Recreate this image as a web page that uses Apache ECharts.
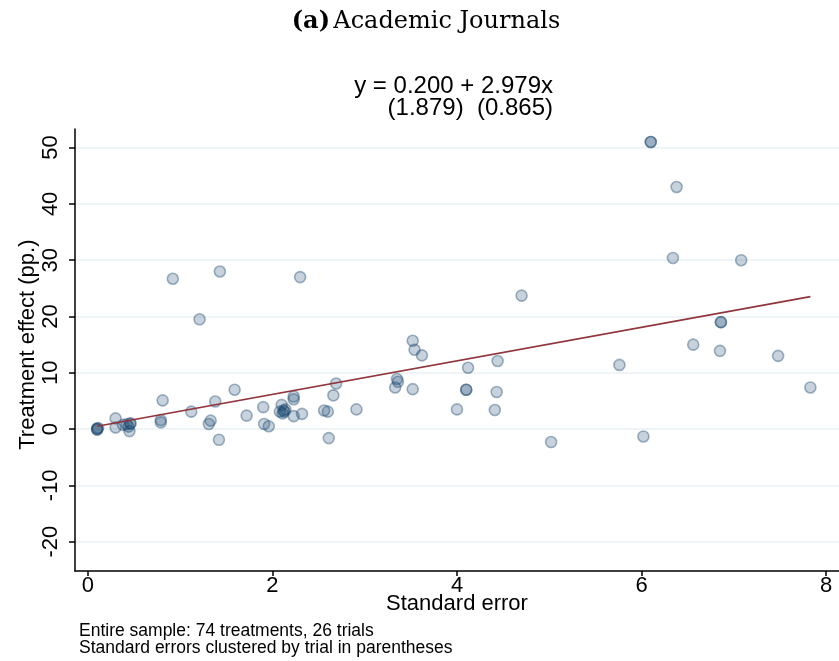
<!DOCTYPE html>
<html>
<head>
<meta charset="utf-8">
<script src="https://cdn.jsdelivr.net/npm/echarts@6/dist/echarts.min.js"></script>
<style>
  html, body { margin: 0; padding: 0; background: #ffffff; }
  #chart { width: 839px; height: 661px; }
</style>
</head>
<body>
<div id="chart"></div>
<script>
// Standard error (x) and treatment effect in percentage points (y), one entry per treatment
const standardErrors = [
  0.10, 0.10, 0.11, 0.10, 0.30, 0.30, 0.38, 0.42, 0.46, 0.45, 0.44, 0.46,
  0.81, 0.79, 0.79, 1.12, 1.38, 1.59, 1.33, 1.31, 1.42, 1.72, 1.90, 1.91,
  1.96, 2.10, 2.14, 2.08, 2.11, 2.13, 2.12, 2.23, 2.23, 2.23, 2.32, 2.56,
  2.60, 2.66, 2.69, 2.61, 2.91, 3.35, 3.36, 3.33, 3.52, 3.52, 3.54, 3.62,
  4.00, 4.12, 4.10, 4.10, 4.44, 4.43, 4.41, 4.70, 5.02, 5.76, 6.02, 6.10,
  6.10, 6.38, 6.34, 7.08, 6.86, 6.86, 6.56, 6.85, 7.48, 7.83, 0.92, 1.43,
  2.30, 1.21
];
const treatmentEffects = [
  0.0, 0.1, 0.2, -0.1, 1.9, 0.3, 0.75, 0.87, 1.05, -0.35, 0.44, 0.95,
  5.1, 1.6, 1.2, 3.1, 4.9, 7.0, 1.5, 0.9, -1.9, 2.4, 3.9, 0.9,
  0.5, 4.3, 3.5, 3.1, 2.8, 3.1, 3.3, 5.8, 5.3, 2.3, 2.7, 3.3,
  3.1, 6.0, 8.1, -1.6, 3.5, 8.9, 8.4, 7.4, 7.1, 15.7, 14.1, 13.1,
  3.5, 10.9, 7.0, 7.0, 12.1, 6.6, 3.4, 23.7, -2.3, 11.4, -1.3, 51.0,
  51.0, 43.0, 30.4, 30.0, 19.0, 19.0, 15.0, 13.9, 13.0, 7.4, 26.7, 28.0,
  27.0, 19.5
];

// Fitted line y = a + b*x with clustered standard errors
const intercept = 0.200;
const slope = 2.979;
const interceptSE = 1.879;
const slopeSE = 0.865;

// Axis ticks
const xTickValues = [0, 2, 4, 6, 8];
const yTickValues = [-20, -10, 0, 10, 20, 30, 40, 50];

// Text
const titleTag = '(a)';
const titleText = 'Academic Journals';
const xAxisTitle = 'Standard error';
const yAxisTitle = 'Treatment effect (pp.)';
const noteLines = [
  'Entire sample: 74 treatments, 26 trials',
  'Standard errors clustered by trial in parentheses'
];

// ---- layout ----
const plotBox = { left: 75, right: 839, top: 129, bottom: 571 };
const xRange = [-0.14, 8.14];
const yRange = [-25.2, 53.3];
const plotW = plotBox.right - plotBox.left;
const plotH = plotBox.bottom - plotBox.top;
const xPix = v => plotBox.left + (v - xRange[0]) / (xRange[1] - xRange[0]) * plotW;
const yPix = v => plotBox.top + (yRange[1] - v) / (yRange[1] - yRange[0]) * plotH;

const xTickMin = Math.min(...xTickValues), xTickMax = Math.max(...xTickValues);
const yTickMin = Math.min(...yTickValues), yTickMax = Math.max(...yTickValues);

const FONT = '"Liberation Sans", Arial, sans-serif';
const SERIF = '"DejaVu Serif", serif';
const navy = '26,71,111';

const points = standardErrors.map((x, i) => [x, treatmentEffects[i]]);
const xMinData = Math.min(...standardErrors);
const xMaxData = Math.max(...standardErrors);
const fitLine = [xMinData, xMaxData].map(x => [x, intercept + slope * x]);

const eqLine1 = 'y = ' + intercept.toFixed(3) + ' + ' + slope.toFixed(3) + 'x';
const eqLine2 = '(' + interceptSE.toFixed(3) + ')  (' + slopeSE.toFixed(3) + ')';

const chart = echarts.init(document.getElementById('chart'), null, { renderer: 'canvas' });

chart.setOption({
  backgroundColor: '#ffffff',
  animation: false,
  grid: [
    // data area, full axis extent
    { left: plotBox.left, top: plotBox.top, width: plotW, height: plotH },
    // y ticks, labels and grid lines
    { left: plotBox.left, width: plotW, top: yPix(yTickMax), height: yPix(yTickMin) - yPix(yTickMax) },
    // x ticks and labels
    { left: xPix(xTickMin), width: xPix(xTickMax) - xPix(xTickMin), top: plotBox.top, height: plotH }
  ],
  xAxis: [
    {
      gridIndex: 0, type: 'value', min: xRange[0], max: xRange[1],
      axisLine: { show: true, onZero: false, lineStyle: { color: '#000', width: 1.5 } },
      axisTick: { show: false }, axisLabel: { show: false }, splitLine: { show: false }
    },
    { gridIndex: 1, type: 'value', min: xRange[0], max: xRange[1], show: false },
    {
      gridIndex: 2, type: 'value', min: xTickMin, max: xTickMax, interval: xTickValues[1] - xTickValues[0],
      axisLine: { show: false, onZero: false },
      axisTick: { show: true, length: 5, lineStyle: { color: '#000', width: 1.5 } },
      axisLabel: { show: true, fontFamily: FONT, fontSize: 22, color: '#000', margin: 4 },
      splitLine: { show: false },
      name: xAxisTitle, nameLocation: 'middle', nameGap: 22, nameMoveOverlap: false,
      nameTextStyle: { fontFamily: FONT, fontSize: 22, color: '#000' }
    }
  ],
  yAxis: [
    {
      gridIndex: 0, type: 'value', min: yRange[0], max: yRange[1],
      axisLine: { show: true, onZero: false, lineStyle: { color: '#000', width: 1.5 } },
      axisTick: { show: false }, axisLabel: { show: false }, splitLine: { show: false }
    },
    {
      gridIndex: 1, type: 'value', min: yTickMin, max: yTickMax, interval: yTickValues[1] - yTickValues[0],
      axisLine: { show: false, onZero: false },
      axisTick: { show: true, length: 6, lineStyle: { color: '#000', width: 1.5 } },
      axisLabel: { show: true, rotate: 90, fontFamily: FONT, fontSize: 22, color: '#000', margin: 13 },
      splitLine: { show: true, lineStyle: { color: '#eaf2f3', width: 1.5 } },
      name: yAxisTitle, nameLocation: 'middle', nameGap: 36, nameMoveOverlap: false,
      nameTextStyle: { fontFamily: FONT, fontSize: 22, color: '#000' }
    },
    { gridIndex: 2, type: 'value', min: yRange[0], max: yRange[1], show: false }
  ],
  series: [
    {
      type: 'scatter', xAxisIndex: 0, yAxisIndex: 0,
      data: points, symbol: 'circle', symbolSize: 11,
      itemStyle: { color: 'rgba(' + navy + ',0.3)', borderColor: 'rgba(' + navy + ',0.5)', borderWidth: 1.6 },
      z: 3
    },
    {
      type: 'line', xAxisIndex: 0, yAxisIndex: 0,
      data: fitLine, symbol: 'none',
      lineStyle: { color: '#90353b', width: 1.6 },
      z: 4
    }
  ],
  graphic: [
    {
      type: 'text', x: 426, y: 10,
      style: {
        text: '{b|' + titleTag + '} {r|' + titleText + '}',
        align: 'center',
        rich: {
          b: { fontFamily: SERIF, fontWeight: 'bold', fontSize: 24, fill: '#000' },
          r: { fontFamily: SERIF, fontWeight: 'normal', fontSize: 24, fill: '#000' }
        }
      }
    },
    {
      type: 'text', right: 839 - 553, top: 74,
      style: { text: eqLine1, font: '24px ' + FONT, fill: '#000' }
    },
    {
      type: 'text', right: 839 - 553, top: 96,
      style: { text: eqLine2, font: '24px ' + FONT, fill: '#000' }
    },
    {
      type: 'text', left: 79, top: 622,
      style: { text: noteLines.join('\n'), font: '17.5px ' + FONT, fill: '#000', lineHeight: 17 }
    }
  ]
});
</script>
</body>
</html>
